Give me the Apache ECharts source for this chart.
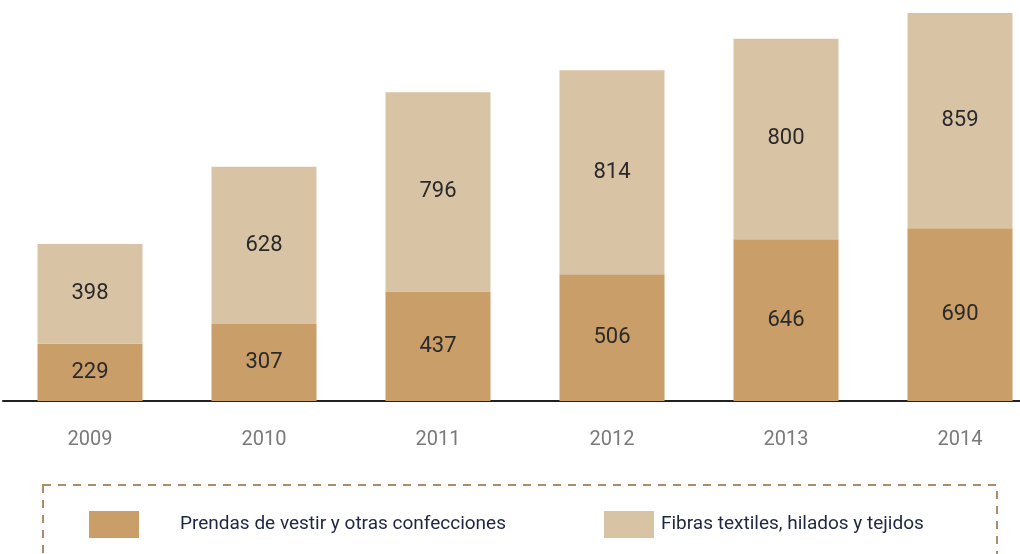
<!DOCTYPE html>
<html>
<head>
<meta charset="utf-8">
<script src="https://cdn.jsdelivr.net/npm/echarts@6/dist/echarts.min.js"></script>
<style>
  html, body { margin: 0; padding: 0; background: #fff; }
  #chart { width: 1020px; height: 554px; }
</style>
</head>
<body>
<div id="chart"></div>
<script>
const years = ['2009', '2010', '2011', '2012', '2013', '2014']
const prendas = [229, 307, 437, 506, 646, 690]
const fibras = [398, 628, 796, 814, 800, 859]

const FONT = '"Liberation Sans Narrow", "Arial Narrow", Roboto, sans-serif'

const chart = echarts.init(document.getElementById('chart'))

const barLabel = {
  show: true,
  position: 'inside',
  color: '#2a2a2a',
  fontFamily: FONT,
  fontSize: 22
}

chart.setOption({
  animation: false,
  grid: { left: 3, right: -27, top: 13, bottom: 153, outerBoundsMode: 'none' },
  legend: [
    {
      data: ['Prendas de vestir y otras confecciones'],
      left: 89, top: 511, padding: 0,
      itemWidth: 50, itemHeight: 27,
      icon: 'rect',
      textStyle: { fontFamily: FONT, fontSize: 19, color: '#1e2640', padding: [0, 0, 0, 36] }
    },
    {
      data: ['Fibras textiles, hilados y tejidos'],
      left: 604, top: 511, padding: 0,
      itemWidth: 50, itemHeight: 27,
      icon: 'rect',
      textStyle: { fontFamily: FONT, fontSize: 19, color: '#1e2640', padding: [0, 0, 0, 2] }
    }
  ],
  graphic: {
    elements: [
      {
        type: 'rect',
        shape: { x: 43, y: 485, width: 954, height: 100 },
        style: { fill: 'none', stroke: '#b08b68', lineWidth: 2, lineDash: [8, 7] }
      }
    ]
  },
  xAxis: {
    type: 'category',
    data: years,
    axisLine: { lineStyle: { color: '#222', width: 2 } },
    axisTick: { show: false },
    axisLabel: { color: '#7a7a7a', fontFamily: FONT, fontSize: 20, margin: 29 }
  },
  yAxis: {
    type: 'value',
    min: 0,
    max: 1549,
    show: false,
    splitLine: { show: false }
  },
  series: [
    {
      name: 'Prendas de vestir y otras confecciones',
      type: 'bar',
      stack: 'total',
      barWidth: 105,
      itemStyle: { color: '#c99e68' },
      label: barLabel,
      data: prendas
    },
    {
      name: 'Fibras textiles, hilados y tejidos',
      type: 'bar',
      stack: 'total',
      barWidth: 105,
      itemStyle: { color: '#d9c3a5' },
      label: barLabel,
      data: fibras
    }
  ]
})
</script>
</body>
</html>
